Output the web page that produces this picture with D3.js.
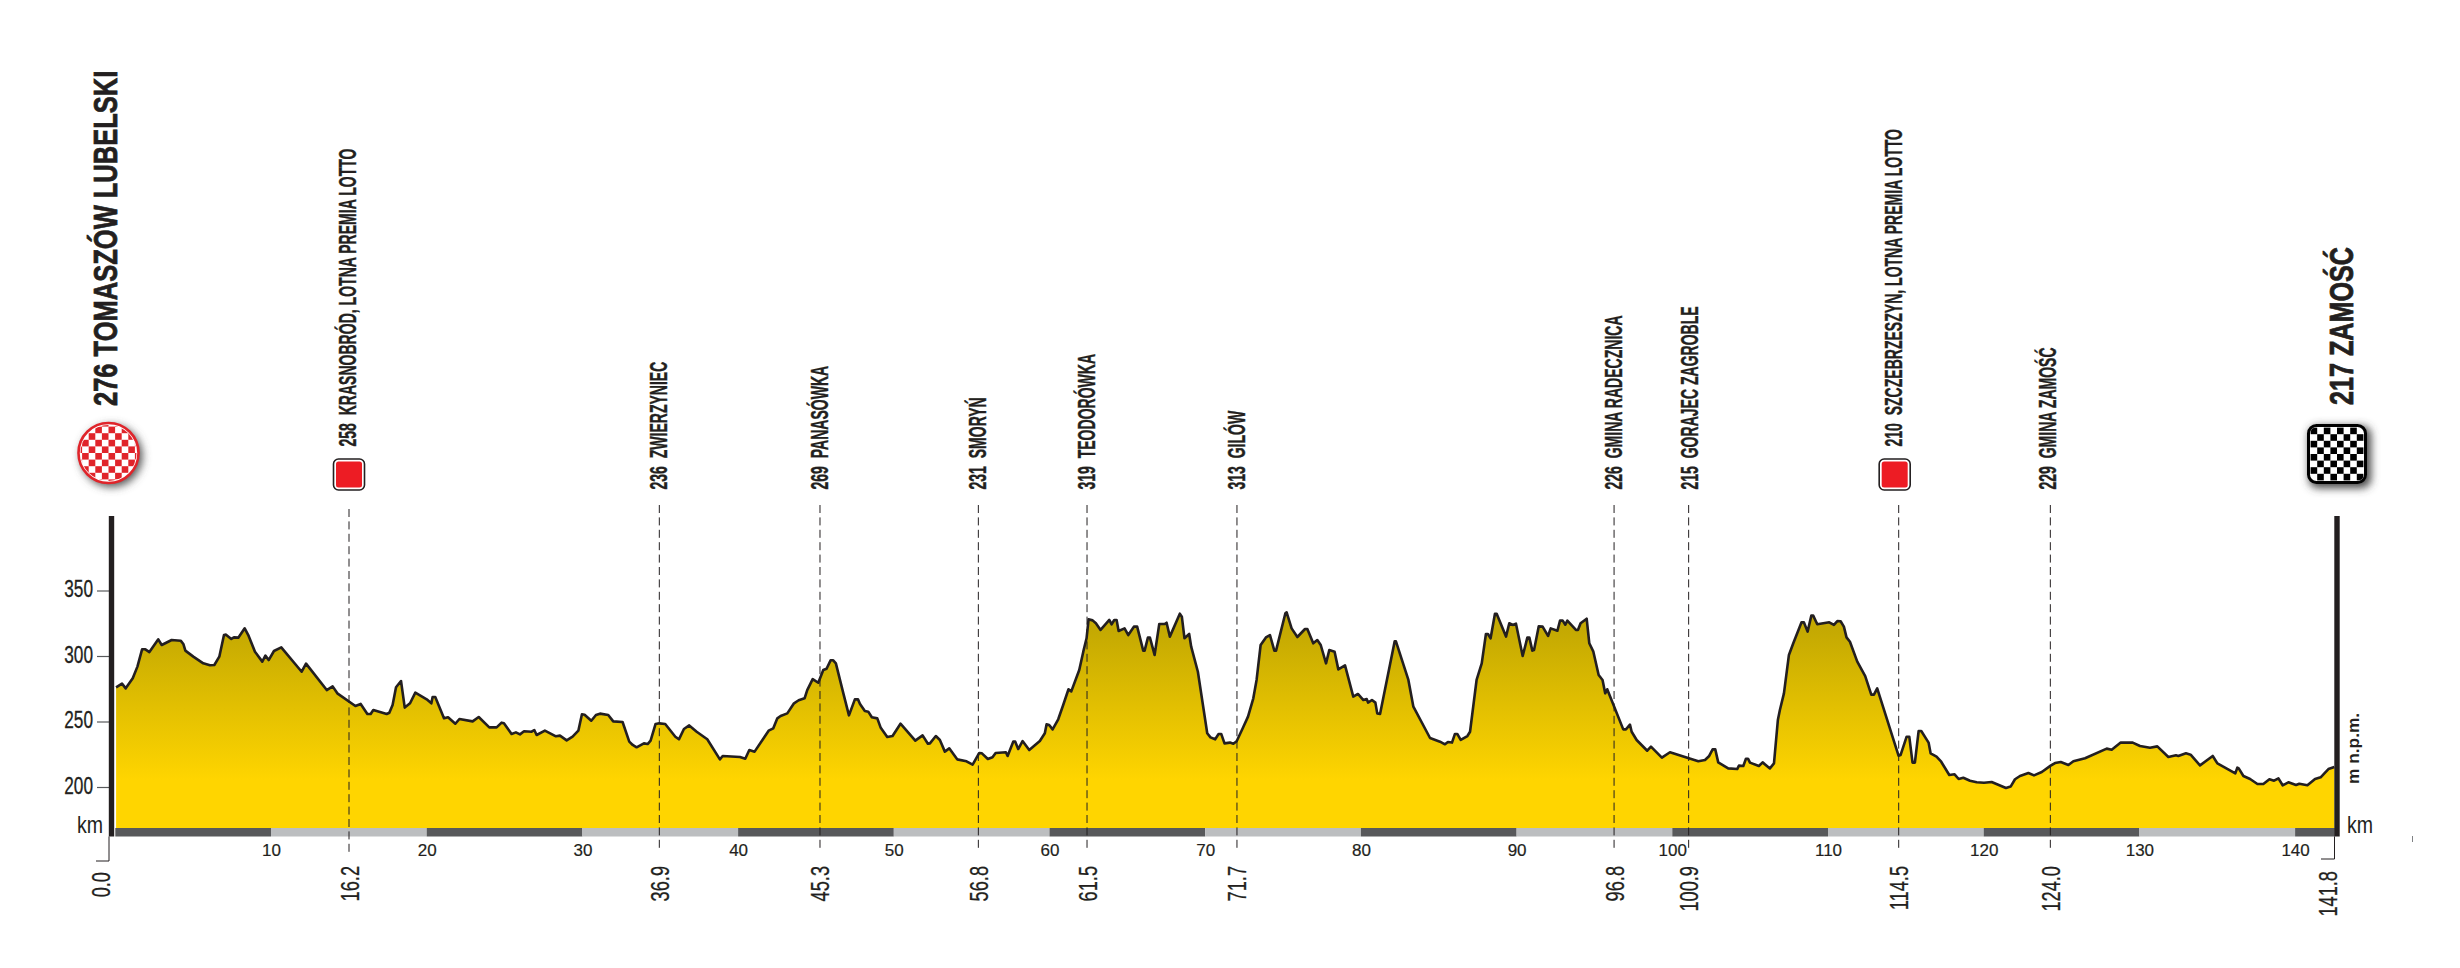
<!DOCTYPE html>
<html>
<head>
    <meta charset="utf-8">
    <title>Etap Tomaszów Lubelski - Zamość</title>
    <script src="https://d3js.org/d3.v7.min.js"></script>
    <style>
        body, html { margin: 0; padding: 0; background: #fff; }
        svg { display: block; }
        text { fill: #231f20; }
    </style>
</head>
<body>
    <div id="chart"></div>
    <script>
        // route profile
        var profileKm = [0.05,0.43,0.67,1.12,1.42,1.72,1.93,2.19,2.76,2.98,3.62,4.2,4.37,4.5,5.01,5.65,6.08,6.36,6.68,6.98,7.11,7.45,7.62,7.9,8.31,8.54,8.97,9.44,9.64,9.85,10.19,10.66,11.97,12.25,13.58,13.96,14.26,15.42,15.76,16.19,16.4,16.57,17.43,17.6,17.81,18.03,18.35,18.59,18.93,19.27,20,20.3,20.38,20.55,21.11,21.37,21.84,22.1,22.95,23.34,24.02,
            24.49,24.81,24.96,25.45,25.73,25.99,26.25,26.74,26.91,27.06,27.59,28.3,28.56,28.99,29.37,29.74,29.97,30.14,30.57,30.87,31.13,31.66,31.98,32.58,33.01,33.23,33.48,33.95,34.19,34.38,34.7,34.94,35.32,35.97,36.2,36.52,36.86,37.34,38.02,38.83,39.01,40.12,40.46,40.72,41.06,41.96,42.26,42.52,42.73,43.16,43.59,43.89,44.27,44.44,44.79,45.15,45.47,45.68,45.94,46.11,46.28,46.76,47.12,47.5,47.7,47.83,
            48.14,48.36,48.59,48.94,49.15,49.58,49.92,50.43,51.38,51.85,52.19,52.32,52.7,52.96,53.28,53.56,54.07,54.67,55.06,55.49,55.66,56.04,56.34,56.54,57.2,57.31,57.67,57.8,57.99,58.27,58.7,59.38,59.7,59.81,59.98,60.2,60.56,60.88,61.22,61.4,61.91,62.17,62.38,62.51,62.77,62.98,63.28,63.84,63.99,64.16,64.31,64.44,64.82,65.06,65.42,65.63,66.02,66.11,66.32,66.45,66.75,67.05,67.39,67.52,67.73,68.37,68.5,68.67,68.97,69.1,69.53,70.13,70.34,70.64,70.86,71.03,71.24,71.59,
            71.81,72.02,72.41,72.75,73.09,73.3,73.56,73.9,74.16,74.44,74.55,75.15,75.23,75.55,75.92,76.41,76.56,76.94,77.2,77.42,77.76,77.97,78.31,78.55,78.98,79.51,79.81,80.16,80.37,80.46,80.71,80.93,81.05,81.23,82.17,82.25,83.05,83.37,84.44,85.08,85.4,85.59,85.85,86.04,86.19,86.41,86.84,87.01,87.43,87.76,88.03,88.16,88.33,88.61,88.72,89.32,89.53,89.75,89.96,90.39,90.69,90.82,91.01,91.12,91.42,91.67,92.02,92.19,92.62,92.79,92.96,93.13,93.26,93.81,93.94,94.11,94.5,94.67,94.93,95.27,
            95.52,95.69,95.82,96.85,97.02,97.28,97.39,97.71,98.39,98.63,99.33,99.85,101.67,102.1,102.37,102.59,102.76,102.95,103.59,104.17,104.28,104.56,104.73,104.86,104.99,105.56,105.8,106.27,106.53,106.78,106.91,107.17,107.49,107.77,108.3,108.45,108.69,108.93,109.05,109.31,110.08,110.38,110.6,110.81,111.02,111.19,111.41,111.88,112.39,112.78,112.95,113.16,114.53,114.66,115.05,115.22,115.43,115.58,115.82,115.99,116.46,116.59,116.97,117.27,117.79,118.13,118.39,118.69,119.12,
            119.55,120.02,120.51,121.43,121.73,122.01,122.33,122.87,123.23,123.73,124.3,124.58,124.95,125.44,125.76,126.51,127.9,128.22,128.8,129.57,130.04,130.68,131.15,131.86,132.35,132.5,132.99,133.29,133.89,134.71,135.01,136.16,136.29,136.38,136.68,137.11,137.58,137.96,138.35,138.65,138.93,139.2,139.57,140.06,140.27,140.79,141.28,141.64,142.14,142.52];
        var profileM = [276.1,278.9,275.3,283,291.9,305.1,305.1,303,312.7,308.4,312.2,311.7,309.2,304.1,299.5,294.4,292.9,293.1,299.5,316,316.3,313,314.2,314,321.1,316,303.3,295.7,300.3,296.9,303.8,306.6,288,294.2,274,276.8,271.5,261.8,263.4,255.7,255.7,258.8,255.7,256.7,262.6,276.1,280.9,260.6,263.9,272,266.9,263.9,268.7,268.7,252.4,253.2,248.3,251.9,250.1,253.4,245.5,
            245.5,249.1,248.6,240.5,241.7,240.2,242.5,242.2,243.5,239.7,243,238.7,239.2,235.6,238.4,243,255.5,255.2,250.6,255,256,255,250.1,249.6,234.6,232.1,230.3,233.3,232.8,235.4,248.1,248.6,248.1,238.4,236.4,244.3,247,242.2,236.4,221.1,223.7,222.9,221.6,228.2,227,243,244.8,252.4,254.2,256.2,263.9,266.2,267.7,274,282.4,279.6,289.3,290.3,296.7,296.7,294.4,271.5,254.7,266.9,266.9,263.4,
            258,257.5,253.2,252.4,245.5,238.2,238.9,248.3,235.4,239.4,233,233.3,238.9,235.9,227,229.5,221.1,219.6,217,226,225.7,221.4,222.7,226,226.5,223.7,234.6,234.6,229,235.1,228.2,235.1,241,247.8,247.3,244,251.7,262.6,274.6,273,289.3,303.3,313.5,328,327.2,325,319.9,327.5,324.2,327.5,327.5,319.1,321.1,316,322.4,322.4,304.1,304.1,314,314,300.8,324.4,324.4,325.4,314.8,332.3,330,313.5,316.8,307.1,288,241,237.9,236.4,240.5,240.5,233.3,233.9,
            233,234.9,244.8,253.7,267.7,281.7,308.4,314.2,316,304.1,304.1,332.6,333.3,321.1,314.5,320.6,320.6,309.7,312.2,308.4,294.4,304.6,303.3,289.8,292.9,269,271,266.4,267.2,264.4,266.4,264.4,256.2,255.7,311.2,311.2,281.7,261.3,237.4,234.6,232.6,234.4,233.9,240.5,240.5,235.9,238.9,242.2,281.7,294.4,316.8,316.8,313.5,332.3,332.3,314.8,325,323.7,324.7,300,314,314,304.1,304.6,322.6,322.4,315.3,321.1,319.3,327,327,323.9,327,319.9,319.9,325,328.5,309.7,303.3,285.5,
            281.7,271.5,274.6,244,244,247.6,242.2,235.9,227.7,230.8,222.4,226.5,219.6,220.6,223.7,228.7,228.7,218.8,214.2,213.7,216.3,216,221.6,221.6,218.6,216,218.8,214.2,218,251.1,258.8,271.5,300.8,309.7,325.7,325.7,318.6,330.8,330.8,324.2,325.7,323.7,326.7,326.5,322.4,314.2,310.9,295.7,284.7,270.5,270.5,275.3,223.9,224.4,238.4,238.4,218.6,218.6,242.7,242.7,233.9,225.7,223.2,219.3,209.2,209.7,206.1,207.1,204.8,
            203.6,203.3,203.8,199.2,200.3,205.9,208.4,210.7,208.9,211.4,216.3,218.3,219.1,216.8,219.6,221.9,229.3,228.5,233.9,233.9,231.3,230,231,222.9,224.2,223.7,225.7,224.7,216.5,223.7,218,210.4,214.8,214.2,208.4,206.1,202.3,202.3,205.9,204.8,206.6,201.3,203.6,201.5,202.5,201.3,206.1,207.4,213.7,215.3];

        // places along the route
        var placeAxisKm = [15.01, 34.94, 45.26, 55.43, 62.41, 72.04, 96.26, 101.05, 114.54, 124.28];
        var placeKmLabels = ["16.2", "36.9", "45.3", "56.8", "61.5", "71.7", "96.8", "100.9", "114.5", "124.0"];
        var placeHeights = [258, 236, 269, 231, 319, 313, 226, 215, 210, 229];
        var placeNames = ["KRASNOBRÓD, LOTNA PREMIA LOTTO", "ZWIERZYNIEC", "PANASÓWKA", "SMORYŃ", "TEODORÓWKA", "GILÓW",
            "GMINA RADECZNICA", "GORAJEC ZAGROBLE", "SZCZEBRZESZYN, LOTNA PREMIA LOTTO", "GMINA ZAMOŚĆ"];
        var sprintPlaces = ["16.2", "114.5"];

        var heightTicks = [200, 250, 300, 350];
        var kmTicks = [10, 20, 30, 40, 50, 60, 70, 80, 90, 100, 110, 120, 130, 140];
        var routeEndKm = 142.55;
        var baseHeight = 168.7;

        var width = 2460, height = 968;
        var ink = "#231f20";
        var condensedFont = "'Liberation Sans Narrow', 'Liberation Sans', sans-serif";
        var plainFont = "'Liberation Sans', sans-serif";
        // names do not sit evenly on their dashed lines
        var labelShift = [7, 8, 8, 8, 8, 8, 8, 9, 3, 5.5];
        var badgeShift = [0, 0, 0, 0, 0, 0, 0, 0, -4, 0];

        var x = d3.scaleLinear().domain([0, 100]).range([115.3, 1672.3]);
        var y = d3.scaleLinear().domain([200, 350]).range([787, 590.5]);
        var bandTop = y(baseHeight), bandBottom = bandTop + 8.5;

        var svg = d3.select("#chart").append("svg")
            .attr("width", width)
            .attr("height", height);
        var defs = svg.append("defs");

        var fillGrad = defs.append("linearGradient")
            .attr("id", "hillFill")
            .attr("gradientUnits", "userSpaceOnUse")
            .attr("x1", 0).attr("x2", 0)
            .attr("y1", y(320)).attr("y2", y(205));
        fillGrad.append("stop").attr("offset", "0%").attr("stop-color", "#c4a902");
        fillGrad.append("stop").attr("offset", "100%").attr("stop-color", "#ffd500");

        var shadow = defs.append("filter").attr("id", "shadow")
            .attr("x", "-30%").attr("y", "-30%").attr("width", "170%").attr("height", "170%");
        shadow.append("feGaussianBlur").attr("stdDeviation", 4);

        // rotated, horizontally squeezed text
        function upText(parent, px, py, str, size, squeeze, anchor, weight, font, thicken) {
            return parent.append("text")
                .attr("transform", "translate(" + px + "," + py + ") rotate(-90) scale(" + squeeze + ",1)")
                .attr("text-anchor", anchor)
                .attr("font-family", font || condensedFont)
                .attr("font-size", size)
                .attr("font-weight", weight)
                .attr("stroke", ink)
                .attr("stroke-width", thicken || 0)
                .text(str);
        }

        var points = profileKm.map(function(k, i) { return [k, profileM[i]]; });

        // km band under the profile
        var bands = d3.range(0, 150, 10);
        svg.append("g").selectAll("rect").data(bands).join("rect")
            .attr("x", function(d) { return x(d); })
            .attr("y", bandTop)
            .attr("width", function(d) { return x(Math.min(d + 10, routeEndKm)) - x(d); })
            .attr("height", bandBottom - bandTop)
            .attr("fill", function(d) { return d % 20 === 0 ? "#58595b" : "#bcbec0"; });

        // profile
        svg.append("path").datum(points)
            .attr("fill", "url(#hillFill)")
            .attr("d", d3.area()
                .x(function(d) { return x(d[0]); })
                .y0(bandTop)
                .y1(function(d) { return y(d[1]); }));

        // dashed place lines
        var places = svg.append("g");
        placeAxisKm.forEach(function(k, i) {
            var sprint = sprintPlaces.indexOf(placeKmLabels[i]) >= 0;
            var px = x(k);
            places.append("line")
                .attr("x1", px).attr("x2", px)
                .attr("y1", i === 0 ? 509 : 505)
                .attr("y2", i === 0 ? 855 : 850)
                .attr("stroke", ink)
                .attr("stroke-width", 1)
                .attr("stroke-dasharray", "8,4.4");
            upText(places, px + 9.5, 866, placeKmLabels[i], 26, 0.7, "end", "normal", plainFont, 0.3);
            upText(places, px + labelShift[i], sprint ? 446.5 : 489.5, placeHeights[i] + "\u00a0 " + placeNames[i], 23, 0.61, "start", "bold", condensedFont, 0.4);
            if (sprint) {
                var bx = px + badgeShift[i];
                places.append("rect")
                    .attr("x", bx - 15.5).attr("y", 459)
                    .attr("width", 31).attr("height", 31).attr("rx", 5)
                    .attr("fill", "#fff").attr("stroke", ink).attr("stroke-width", 1.6);
                places.append("rect")
                    .attr("x", bx - 13).attr("y", 461.5)
                    .attr("width", 26).attr("height", 26).attr("rx", 2.5)
                    .attr("fill", "#ed1c24");
            }
        });

        svg.append("path").datum(points)
            .attr("fill", "none")
            .attr("stroke", ink)
            .attr("stroke-width", 2.6)
            .attr("stroke-linejoin", "round")
            .attr("d", d3.line()
                .x(function(d) { return x(d[0]); })
                .y(function(d) { return y(d[1]); }));

        // height axis
        var heightAxis = svg.append("g")
            .attr("transform", "translate(109,0)")
            .call(d3.axisLeft(y).tickValues(heightTicks).tickSize(12).tickPadding(4));
        heightAxis.select(".domain").remove();
        heightAxis.selectAll("line").attr("stroke", "#58595b").attr("stroke-width", 1.2);
        heightAxis.selectAll("text")
            .attr("font-family", condensedFont)
            .attr("font-size", 23)
            .attr("font-weight", "normal")
            .attr("stroke", ink)
            .attr("stroke-width", 0.3)
            .attr("transform", "translate(-16,-1) scale(0.75,1) translate(16,0)");

        // km axis labels
        var kmAxis = svg.append("g")
            .attr("transform", "translate(0," + bandBottom + ")")
            .call(d3.axisBottom(x).tickValues(kmTicks).tickSize(0).tickPadding(7));
        kmAxis.select(".domain").remove();
        kmAxis.selectAll("text")
            .attr("font-family", condensedFont)
            .attr("font-size", 17)
            .attr("font-weight", "normal")
            .attr("stroke", ink)
            .attr("stroke-width", 0.2);

        // end posts
        [[111.5, 109, 96, 861], [2337, 2334.5, 2321, 859]].forEach(function(p) {
            svg.append("rect").attr("x", p[0] - 2.7).attr("y", 516)
                .attr("width", 5.4).attr("height", bandBottom - 516).attr("fill", ink);
            svg.append("path")
                .attr("d", "M" + p[1] + "," + bandBottom + "V" + p[3] + "H" + p[2])
                .attr("fill", "none").attr("stroke", ink).attr("stroke-width", 1);
        });
        svg.append("line").attr("x1", 2412.5).attr("x2", 2412.5).attr("y1", 836).attr("y2", 842)
            .attr("stroke", "#808285").attr("stroke-width", 1);

        function kmWord(px) {
            svg.append("text")
                .attr("transform", "translate(" + px + ",833) scale(0.85,1)")
                .attr("font-family", condensedFont)
                .attr("font-size", 23)
                .text("km");
        }
        kmWord(77);
        kmWord(2347);
        upText(svg, 2359, 784, "m n.p.m.", 16.5, 1.05, "start", "bold", plainFont);

        upText(svg, 110, 872, "0.0", 26, 0.7, "end", "normal", plainFont, 0.3);
        upText(svg, 2336.5, 871, "141.8", 26, 0.7, "end", "normal", plainFont, 0.3);

        upText(svg, 117, 406, "276 TOMASZÓW LUBELSKI", 34, 0.75, "start", "bold", condensedFont, 0.8);
        upText(svg, 2353, 405, "217 ZAMOŚĆ", 34, 0.74, "start", "bold", condensedFont, 0.8);

        // start badge
        var start = svg.append("g").attr("transform", "translate(108.5,453)");
        start.append("circle").attr("cx", 3).attr("cy", 3).attr("r", 31)
            .attr("fill", "#555").attr("filter", "url(#shadow)");
        defs.append("clipPath").attr("id", "startClip").append("circle").attr("r", 28);
        start.append("circle").attr("r", 30).attr("fill", "#fff").attr("stroke", "#e0242a").attr("stroke-width", 2.6);
        var cell = 6.6;
        var startCells = start.append("g").attr("clip-path", "url(#startClip)");
        d3.range(-5, 5).forEach(function(i) {
            d3.range(-5, 5).forEach(function(j) {
                if ((i + j + 100) % 2 === 0) {
                    startCells.append("rect")
                        .attr("x", i * cell).attr("y", j * cell)
                        .attr("width", cell).attr("height", cell)
                        .attr("fill", "#e0242a");
                }
            });
        });

        // finish badge
        var finish = svg.append("g").attr("transform", "translate(2337,454)");
        finish.append("rect").attr("x", -28).attr("y", -28).attr("width", 62).attr("height", 62).attr("rx", 9)
            .attr("fill", "#444").attr("filter", "url(#shadow)");
        finish.append("rect").attr("x", -28.5).attr("y", -28.5).attr("width", 57).attr("height", 57).attr("rx", 8)
            .attr("fill", "#fff").attr("stroke", "#000").attr("stroke-width", 3);
        defs.append("clipPath").attr("id", "finishClip").append("rect")
            .attr("x", -27).attr("y", -27).attr("width", 54).attr("height", 54).attr("rx", 7);
        var finishCells = finish.append("g").attr("clip-path", "url(#finishClip)");
        d3.range(-4, 4).forEach(function(i) {
            d3.range(-4, 4).forEach(function(j) {
                if ((i + j + 100) % 2 === 0) {
                    finishCells.append("rect")
                        .attr("x", i * cell).attr("y", j * cell)
                        .attr("width", cell).attr("height", cell)
                        .attr("fill", "#000");
                }
            });
        });
    </script>
</body>
</html>
